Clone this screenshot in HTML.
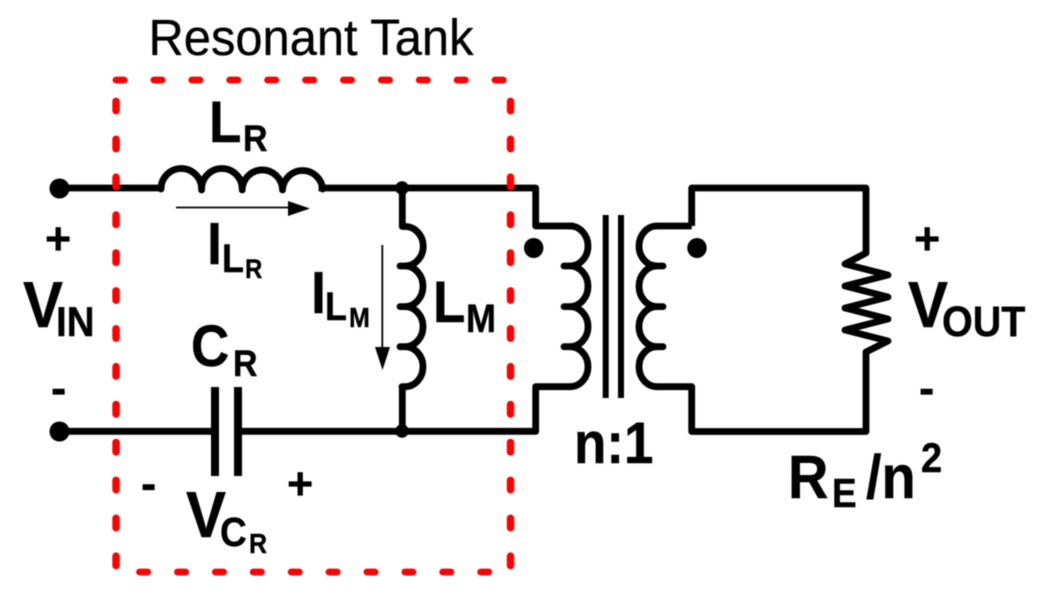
<!DOCTYPE html>
<html>
<head>
<meta charset="utf-8">
<style>
html,body{margin:0;padding:0;background:#fff;width:1043px;height:596px;overflow:hidden}
svg{display:block;filter:blur(.6px)}
text{font-family:"Liberation Sans",Arial,sans-serif;fill:#000}
.b{font-weight:bold;stroke:#000;stroke-width:.35px}
</style>
</head>
<body>
<svg width="1043" height="596" viewBox="0 0 1043 596" xmlns="http://www.w3.org/2000/svg">
<rect width="1043" height="596" fill="#fff"/>
<text transform="translate(148.500 55) scale(1 1.12)" font-size="45.500" textLength="325" lengthAdjust="spacingAndGlyphs" stroke="#000" stroke-width=".25">Resonant Tank</text>

<g fill="none" stroke="#000" stroke-width="6.800" stroke-linejoin="round" stroke-linecap="butt">
  <path d="M60 188H161"/>
  <path d="M322 188H535.700V226H570" stroke-linecap="square"/>
  <path d="M60 431.300H215M238 431.300H535.700V386.700H570"/>
  <path d="M402.300 188V226.500H405M402.300 386.700V431"/>
  <path d="M691.700 226V188H866V253L845 264L888 275L845 286L888 297L845 308L888 319L845 330L888 341L866 352V431.500H691.700V386.700H657"/>
  <path d="M691.700 226H657"/>
  <path d="M215 387V476M238 387V476" stroke-width="8"/>
  <path d="M605.700 215V398M621 215V398" stroke-width="6"/>
  <g stroke-linecap="round">
    <path d="M161 189A20.300 20.500 0 0 1 201.600 189V190M201.600 189A20.300 20.500 0 0 1 242.200 189V190M242.200 189A20.200 20.500 0 0 1 282.500 189V190M282.500 189A20.200 20.500 0 0 1 322.700 189"/>
    <path d="M405 226.500A18 19.500 0 0 1 405 266H400M405 266A18 20.300 0 0 1 405 306.600H400M405 306.600A18 20 0 0 1 405 346.700H400M405 346.700A18 20 0 0 1 405 386.700H402"/>
    <path d="M570 226A18 20 0 0 1 570 266H564M570 266A18 20.300 0 0 1 570 306.600H564M570 306.600A18 20 0 0 1 570 346.700H564M570 346.700A18 20 0 0 1 570 386.700"/>
    <path d="M657 226A18 20 0 0 0 657 266H663M657 266A18 20.300 0 0 0 657 306.600H663M657 306.600A18 20 0 0 0 657 346.700H663M657 346.700A18 20 0 0 0 657 386.700"/>
  </g>
</g>

<g fill="#000">
  <circle cx="59.500" cy="188.500" r="10"/>
  <circle cx="59.500" cy="431.500" r="10"/>
  <circle cx="402" cy="188" r="6.800"/>
  <circle cx="402" cy="431" r="6.800"/>
  <ellipse cx="533.700" cy="248" rx="9.700" ry="10"/>
  <ellipse cx="697" cy="248" rx="9.700" ry="10"/>
  <path d="M288 201L310 208.500L288 216Z"/>
  <path d="M375 347H390L382.500 370Z"/>
</g>
<path d="M176 207.500H292M382.300 245V350" stroke="#000" stroke-width="1.800" fill="none"/>

<g fill="none" stroke="#f00" stroke-linecap="round">
  <path d="M116 80H506" stroke-width="6.800" stroke-dasharray="8.200 29.700"/>
  <path d="M139.500 572H490" stroke-width="6.800" stroke-dasharray="8.200 29.700"/>
  <path d="M116 101.300V567" stroke-width="7.400" stroke-dasharray="9.500 28.400"/>
  <path d="M510.500 101.300V567" stroke-width="7.400" stroke-dasharray="9.500 28.400"/>
</g>

<g>
  <text class="b" transform="translate(209 142) scale(1 1.1)" font-size="53">L</text>
  <text class="b" transform="translate(243 151) scale(1 1.1)" font-size="34">R</text>

  <text class="b" transform="translate(207 264) scale(1 1.1)" font-size="54">I</text>
  <text class="b" transform="translate(222 272) scale(1 1.1)" font-size="36">L</text>
  <text class="b" transform="translate(245 278) scale(1 1.1)" font-size="24">R</text>

  <text class="b" transform="translate(311 313) scale(1 1.1)" font-size="54">I</text>
  <text class="b" transform="translate(325 320) scale(1 1.1)" font-size="36">L</text>
  <text class="b" transform="translate(349 327) scale(1 1.1)" font-size="25">M</text>

  <text class="b" transform="translate(433 322) scale(1 1.1)" font-size="53">L</text>
  <text class="b" transform="translate(466 332) scale(1 1.1)" font-size="36">M</text>

  <text class="b" transform="translate(191 366) scale(1 1.1)" font-size="53">C</text>
  <text class="b" transform="translate(233 376) scale(1 1.1)" font-size="34">R</text>

  <text class="b" transform="translate(186 537) scale(1 1.08)" font-size="60">V</text>
  <text class="b" transform="translate(220 546) scale(1 1.1)" font-size="37">C</text>
  <text class="b" transform="translate(249 553) scale(1 1.1)" font-size="25">R</text>

  <text class="b" x="141" y="499.500" font-size="46">-</text>
  <text class="b" x="287" y="499" font-size="45">+</text>

  <text class="b" x="45" y="254" font-size="45">+</text>
  <text class="b" transform="translate(23 327) scale(1 1.08)" font-size="60">V</text>
  <text class="b" transform="translate(56 336) scale(1 1.08)" font-size="38.500">IN</text>
  <text class="b" x="51" y="404" font-size="46">-</text>

  <text class="b" x="914" y="254" font-size="45">+</text>
  <text class="b" transform="translate(908 327) scale(1 1.08)" font-size="60">V</text>
  <text class="b" transform="translate(942 336) scale(1 1.08)" font-size="39.500">OUT</text>
  <text class="b" x="919" y="404" font-size="46">-</text>

  <text class="b" transform="translate(574 463) scale(1 1.1)" font-size="53">n:1</text>

  <text class="b" transform="translate(788 498) scale(1 1.1)" font-size="56">R</text>
  <text class="b" transform="translate(832 507) scale(1 1.1)" font-size="37">E</text>
  <text class="b" transform="translate(866 498) scale(1 1.1)" font-size="56">/n</text>
  <text class="b" transform="translate(921 472) scale(1 1.1)" font-size="38">2</text>
</g>
</svg>
</body>
</html>
